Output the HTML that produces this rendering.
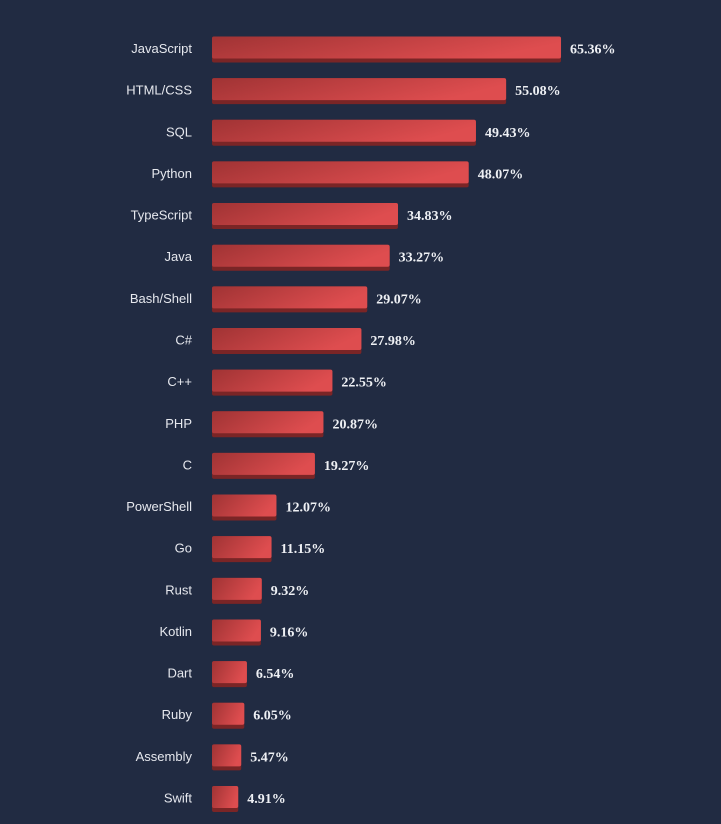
<!DOCTYPE html>
<html><head><meta charset="utf-8"><style>
html,body{margin:0;padding:0;background:#212b42;}
svg{display:block}
</style></head><body>
<svg id="chart" width="721" height="824" xmlns="http://www.w3.org/2000/svg">
<defs>
<linearGradient id="barGrad" x1="0" y1="0" x2="1" y2="0.3">
<stop offset="0" stop-color="#a03334"/>
<stop offset="1" stop-color="#de4d4f"/>
</linearGradient>
</defs>
<rect width="721" height="824" fill="#212b42"/>
<g id="bars"></g>
</svg>
<script>
const categories = ["JavaScript","HTML/CSS","SQL","Python","TypeScript","Java","Bash/Shell","C#","C++","PHP","C","PowerShell","Go","Rust","Kotlin","Dart","Ruby","Assembly","Swift"];
const values = [65.36,55.08,49.43,48.07,34.83,33.27,29.07,27.98,22.55,20.87,19.27,12.07,11.15,9.32,9.16,6.54,6.05,5.47,4.91];
const valueLabels = ["65.36%","55.08%","49.43%","48.07%","34.83%","33.27%","29.07%","27.98%","22.55%","20.87%","19.27%","12.07%","11.15%","9.32%","9.16%","6.54%","6.05%","5.47%","4.91%"];

const x0 = 212, pxPerUnit = 5.34;
const xScale = v => x0 + v * pxPerUnit;
const yScale = i => 48.5 + i * 41.64;
const NS = "http://www.w3.org/2000/svg";
const g = document.getElementById("bars");
function mk(tag, attrs){const e=document.createElementNS(NS,tag);for(const k in attrs)e.setAttribute(k,attrs[k]);return e;}
categories.forEach((c,i)=>{
  const cy = yScale(i);
  const w = xScale(values[i]) - x0;
  const grp = mk("g",{});
  
  
  const lab = mk("text",{x:192,y:cy+4.5,"text-anchor":"end",fill:"#e6e8ee","font-size":"13","font-family":"Liberation Sans, sans-serif"});
  lab.textContent = c;
  
  
  const shadow = mk("rect",{x:x0,y:cy-12,width:w,height:26,rx:2,fill:"#7a2526"});
  
  
  const bar = mk("rect",{x:x0,y:cy-12,width:w,height:22,rx:2,fill:"url(#barGrad)"});
  
  
  const val = mk("text",{x:x0+w+9,y:cy+5,fill:"#eef0f4","font-size":"14","font-weight":"bold","font-family":"Liberation Serif, serif"});
  val.textContent = valueLabels[i];
  
  
  grp.appendChild(lab);grp.appendChild(shadow);grp.appendChild(bar);grp.appendChild(val);
  g.appendChild(grp);
});
</script>
</body></html>
